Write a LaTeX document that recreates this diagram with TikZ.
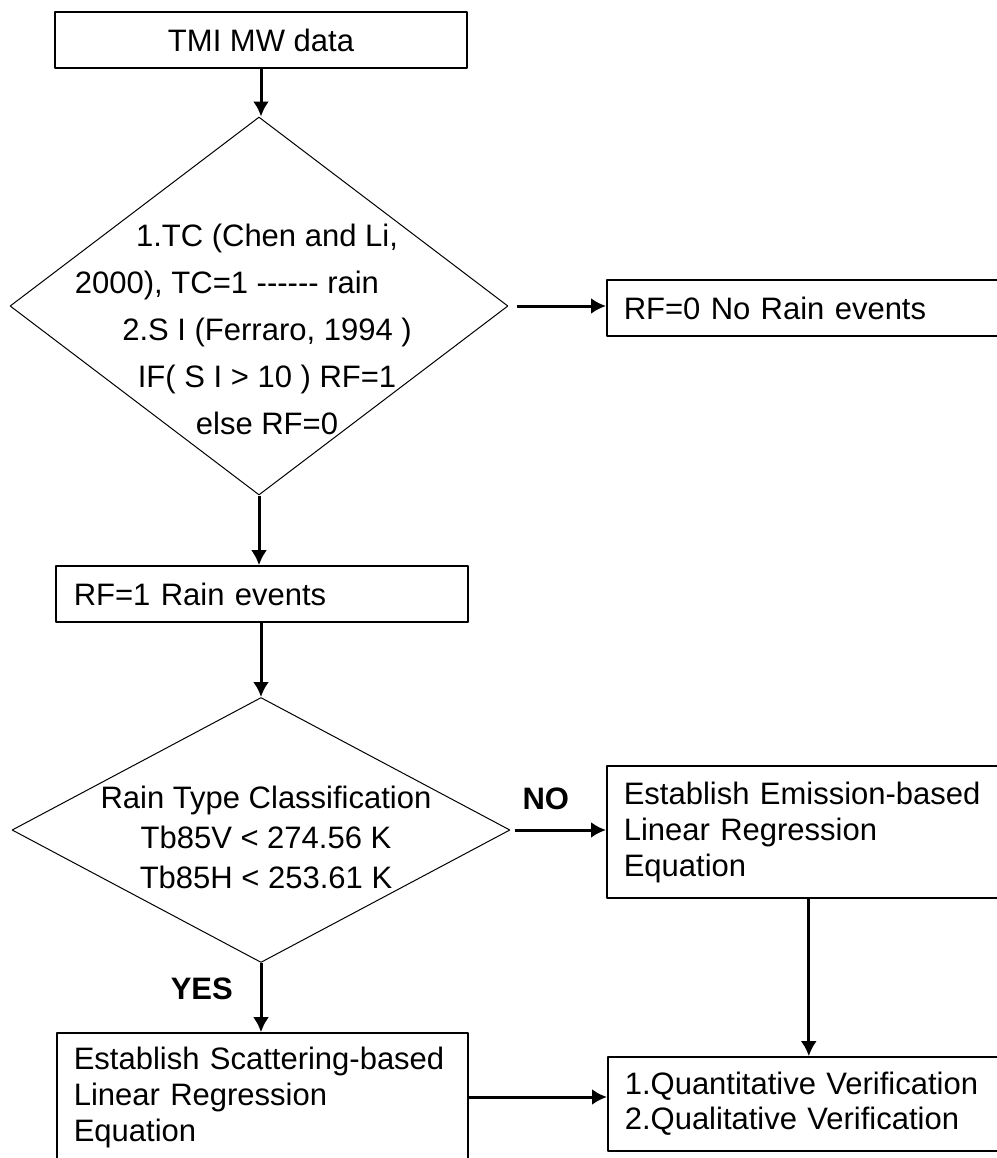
\documentclass[tikz,border=0pt]{standalone}
\usepackage{fontspec}
\setmainfont{Liberation Sans}
\usetikzlibrary{shapes.geometric,arrows.meta}
\newcommand\dashrun{\mbox{-}\mbox{-}\mbox{-}\mbox{-}\mbox{-}\mbox{-}}

\begin{document}
\begin{tikzpicture}[x=0.5pt,y=-0.5pt,>={Latex[length=7.5pt,width=8pt]},line join=bevel,
  frame/.style={draw,line width=0.8pt,font=\fontsize{15.5}{18}\selectfont},
  procbox/.style={frame,anchor=west,inner xsep=8.5pt,align=left},
  decision/.style={draw,line width=0.5pt,diamond,inner sep=0pt,minimum width=249pt},
  flow/.style={->,line width=1.5pt},
  answer/.style={font=\bfseries\fontsize{15.5}{18}\selectfont},]
\useasboundingbox (0,0) rectangle (997,1158);
\clip (0,0) rectangle (997,1158);
%%
  % Node: data
  \node[frame,minimum width=206pt,minimum height=28pt] (data) at (261,40) {TMI MW data};
  % Node: check
  \node[decision,minimum height=189pt] (check) at (259,306) {};
  \node[align=center,font=\fontsize{15.5}{23.5}\selectfont] (checktext) at (267,329)
    {1.TC (Chen and Li,\\ \hspace*{-40pt}2000), TC=1 \dashrun{} rain\\ 2.S I (Ferraro, 1994 )\\ IF( S I > 10 ) RF=1\\ else RF=0};
  % Node: norain
  \node[procbox,minimum width=202pt,minimum height=28pt,text width=185pt] (norain) at (606,308) {RF=0 No Rain events};
  % Node: rain
  \node[procbox,minimum width=206pt,minimum height=28pt,text width=188pt,inner xsep=9pt] (rain) at (55,594) {RF=1 Rain events};
  % Node: type
  \node[decision,minimum height=132.5pt] (type) at (261,830) {};
  \node[align=center,font=\fontsize{15.5}{20}\selectfont] (typetext) at (266,837)
    {Rain Type Classification\\ Tb85V < 274.56 K\\ Tb85H < 253.61 K};
  % Node: emission
  \node[procbox,minimum width=202pt,minimum height=66pt,text width=185pt] (emission) at (606,832)
    {Establish Emission-based\\ Linear Regression\\ Equation};
  % Node: scatter
  \node[procbox,minimum width=205.5pt,minimum height=64pt,text width=188.5pt] (scatter) at (56,1097)
    {Establish Scattering-based\\ Linear Regression\\ Equation};
  % Node: verify
  \node[procbox,minimum width=202pt,minimum height=47pt,text width=185pt,font=\fontsize{15.5}{17.5}\selectfont] (verify) at (607,1104)
    {1.Quantitative Verification\\ 2.Qualitative Verification};
%%
  % Edge: data -> check
  \draw[flow] (data.south) -- (data.south |- check.north);
  % Edge: check -> norain
  \draw[flow,shorten <=4pt] (check.east) -- (check.east -| norain.west);
  % Edge: check -> rain
  \draw[flow] (check.south) -- (check.south |- rain.north);
  % Edge: rain -> type
  \draw[flow] (rain.south -| type.north) -- (type.north);
  % Edge: type -> emission
  \draw[flow,shorten <=2pt] (type.east) -- node[answer,above=6pt,pos=0.37] (no) {NO} (type.east -| emission.west);
  % Edge: type -> scatter
  \draw[flow] (type.south) -- node[answer,left=10pt,pos=0.37] (yes) {YES} (type.south |- scatter.north);
  % Edge: emission -> verify
  \draw[flow] (emission.south) -- (emission.south |- verify.north);
  % Edge: scatter -> verify
  \draw[flow] (scatter.east) -- (scatter.east -| verify.west);
%
\end{tikzpicture}
\end{document}
